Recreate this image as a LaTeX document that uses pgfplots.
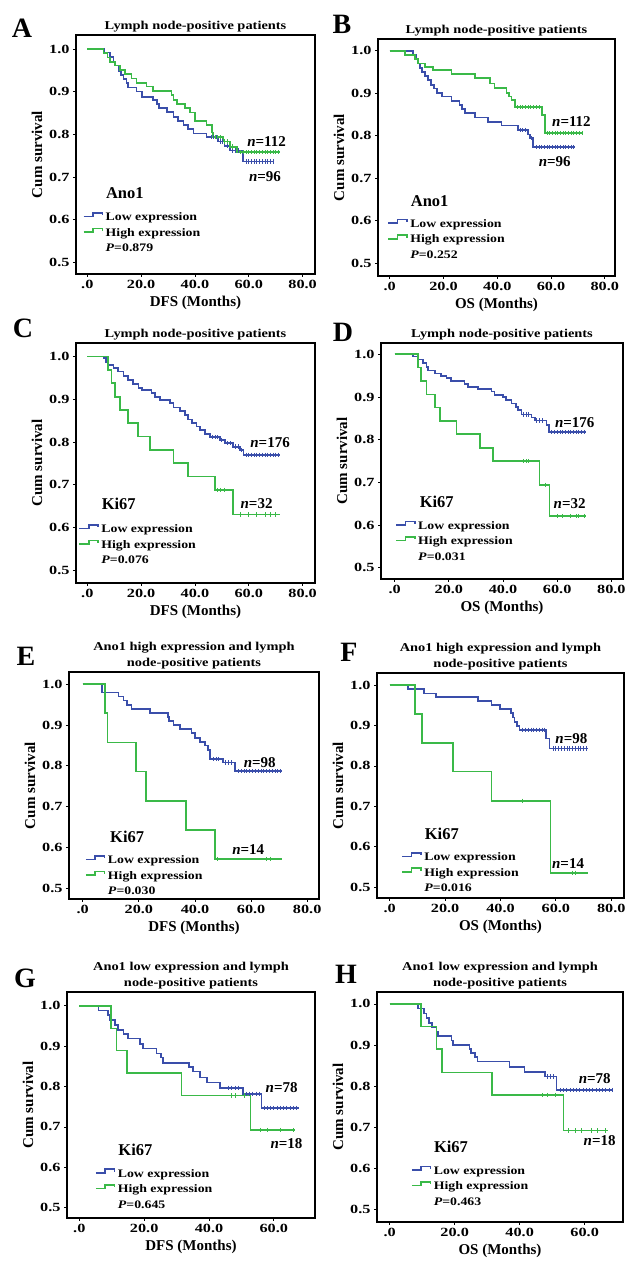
\documentclass[border=0pt]{standalone}
\usepackage{fontspec}
\setmainfont{Liberation Serif}
\usepackage{pgfplots}
\pgfplotsset{compat=1.18}
\definecolor{kmblue}{RGB}{58,78,170}
\definecolor{kmgreen}{RGB}{58,185,72}
\newcommand{\sx}[1]{\scalebox{1.2}[1]{#1}}
\newcommand{\st}[1]{\scalebox{1.3}[1]{#1}}

\pgfplotsset{
  km/.style={
    scale only axis, anchor=south west,
    axis line style={line width=1.4pt},
    tick align=outside, tick pos=left, major tick length=3pt,
    every tick/.style={black, line width=0.8pt},
    ytick={0.5,0.6,0.7,0.8,0.9,1.0},
    yticklabels={\st{0.5},\st{0.6},\st{0.7},\st{0.8},\st{0.9},\st{1.0}},
    xtick={0,20,40,60,80},
    xticklabels={\st{.0},\st{20.0},\st{40.0},\st{60.0},\st{80.0}},
    tick label style={font=\bfseries\fontsize{12.5}{12.5}\selectfont},
    label style={font=\bfseries\fontsize{15}{15}\selectfont},
    title style={font=\bfseries\fontsize{12}{16}\selectfont, align=center, yshift=-7pt},
    ylabel={Cum survival},
    legend cell align=left,
    legend style={draw=none, fill=none, inner sep=0pt, row sep=2.5pt,
      font=\bfseries\fontsize{11.5}{11.5}\selectfont,
      nodes={inner sep=0pt, text height=9.5pt, text depth=3.5pt},
      anchor=north west,
      /tikz/every odd column/.append style={column sep=2.5pt}},
    legend image code/.code={\draw[#1] (0pt,1.2pt) -- (9.3pt,1.2pt) -- (9.3pt,4.8pt) -- (18.7pt,4.8pt) -- (18.7pt,2.4pt);},
  },
  km60/.style={xtick={0,20,40,60}, xticklabels={\st{.0},\st{20.0},\st{40.0},\st{60.0}}},
  lo/.style={kmblue, line width=1.7pt, const plot, forget plot},
  hi/.style={kmgreen, line width=1.7pt, const plot, forget plot},
  locens/.style={kmblue, only marks, mark=|, mark size=2.2pt, forget plot, mark options={line width=0.8pt}},
  hicens/.style={kmgreen, only marks, mark=|, mark size=2.2pt, forget plot, mark options={line width=0.8pt}},
  lolg/.style={kmblue, line width=1.6pt},
  hilg/.style={kmgreen, line width=1.6pt},
}
\tikzset{nlab/.style={font=\bfseries\fontsize{15}{15}\selectfont},
  grp/.style={anchor=west, inner sep=0pt, font=\bfseries\fontsize{16.5}{16.5}\selectfont}}
\newcommand{\panel}[1]{\bfseries\fontsize{28}{28}\selectfont #1}

\begin{document}
\begin{tikzpicture}
\path[use as bounding box] (0pt,0pt) rectangle (637pt,1274pt);

% ---------------- A ----------------
\node at (22pt,1246pt) {\panel{A}};
\begin{axis}[km, at={(76pt,1000pt)}, width=239pt, height=239pt,
  xmin=-4.2, xmax=84.6, ymin=0.4726, ymax=1.0328,
  title={\sx{Lymph node-positive patients}}, xlabel={DFS (Months)},
  legend style={at={(axis cs:-1.7,0.620)}}]
\addlegendimage{lolg}\addlegendentry{\sx{Low expression}}
\addlegendimage{hilg}\addlegendentry{\sx{High expression}}
\addlegendimage{empty legend}\addlegendentry{\sx{\textit{P}=0.879}}
\addplot[lo] coordinates {(0,1)(6.2,0.992)(8.4,0.982)(9.7,0.970)(10.3,0.961)(11.8,0.949)(12.4,0.939)(13.4,0.930)(14.6,0.920)(15.2,0.910)(18.3,0.900)(20.2,0.888)(24.5,0.880)(26,0.871)(26.7,0.861)(29.5,0.852)(32,0.841)(33.8,0.832)(35.7,0.822)(37.5,0.812)(39.4,0.802)(44.3,0.793)(48.5,0.783)(51,0.772)(53,0.762)(57.8,0.736)(69,0.736)};
\addplot[hi] coordinates {(0,1)(6,0.990)(7.5,0.980)(8.4,0.970)(10.3,0.961)(12.1,0.951)(14,0.941)(16.4,0.931)(18.3,0.921)(22,0.912)(24.5,0.902)(31.3,0.892)(32,0.880)(33.2,0.871)(36.3,0.861)(38.1,0.851)(40,0.832)(44.3,0.822)(46.2,0.804)(46.8,0.793)(50.3,0.783)(53,0.771)(55.7,0.758)(71.6,0.758)};
\addplot[locens] coordinates {(46,0.793)(47,0.793)(48,0.793)(49.5,0.783)(50.3,0.783)(52,0.772)(54,0.762)(55,0.762)(56,0.762)(59,0.736)(60,0.736)(61,0.736)(62,0.736)(63,0.736)(64,0.736)(65,0.736)(66,0.736)(67,0.736)(68,0.736)(69,0.736)};
\addplot[hicens] coordinates {(47.5,0.793)(48.5,0.793)(49.5,0.793)(51,0.783)(52,0.783)(54,0.771)(57,0.758)(58,0.758)(59,0.758)(60,0.758)(61,0.758)(62,0.758)(63,0.758)(64,0.758)(65,0.758)(66,0.758)(67,0.758)(68,0.758)(69,0.758)(70,0.758)(71,0.758)};
\node[grp] at (axis cs:6.9,0.662) {Ano1};
\node[nlab] at (axis cs:66.6,0.783) {\textit{n}=112};
\node[nlab] at (axis cs:66,0.700) {\textit{n}=96};
\end{axis}

% ---------------- B ----------------
\node at (342pt,1250pt) {\panel{B}};
\begin{axis}[km, at={(378pt,998pt)}, width=237pt, height=237pt,
  xmin=-4.35, xmax=83.8, ymin=0.470, ymax=1.0275,
  title={\sx{Lymph node-positive patients}}, xlabel={OS (Months)},
  legend style={at={(axis cs:-0.9,0.607)}}]
\addlegendimage{lolg}\addlegendentry{\sx{Low expression}}
\addlegendimage{hilg}\addlegendentry{\sx{High expression}}
\addlegendimage{empty legend}\addlegendentry{\sx{\textit{P}=0.252}}
\addplot[lo] coordinates {(0,1)(8.7,0.990)(10,0.980)(10.6,0.970)(11.2,0.960)(12,0.950)(13,0.940)(14.3,0.931)(15.3,0.920)(16.5,0.911)(17.7,0.900)(19.5,0.892)(23,0.882)(26,0.872)(26.9,0.863)(27.9,0.853)(31.6,0.843)(36.6,0.833)(41.6,0.824)(47.8,0.813)(51.5,0.803)(52.1,0.794)(53.3,0.773)(68.9,0.773)};
\addplot[hi] coordinates {(0,1)(5.6,0.990)(9.3,0.980)(10.5,0.970)(13,0.962)(16,0.955)(23,0.945)(31.6,0.935)(37.2,0.923)(39,0.913)(43.4,0.900)(44.3,0.892)(45.3,0.884)(46.5,0.867)(56.7,0.848)(57.7,0.806)(72,0.806)};
\addplot[locens] coordinates {(48.5,0.813)(49.5,0.813)(50.5,0.813)(52.7,0.794)(54.5,0.773)(55.5,0.773)(56.5,0.773)(57.5,0.773)(58.5,0.773)(59.5,0.773)(60.5,0.773)(61.5,0.773)(62.5,0.773)(63.5,0.773)(64.5,0.773)(65.5,0.773)(66.5,0.773)(67.5,0.773)(68.5,0.773)};
\addplot[hicens] coordinates {(47.5,0.867)(48.5,0.867)(49.5,0.867)(50.5,0.867)(51.5,0.867)(52.5,0.867)(53.5,0.867)(54.5,0.867)(55.5,0.867)(58.5,0.806)(59.5,0.806)(60.5,0.806)(61.5,0.806)(62.5,0.806)(63.5,0.806)(64.5,0.806)(65.5,0.806)(66.5,0.806)(67.5,0.806)(68.5,0.806)(69.5,0.806)(70.5,0.806)(71.5,0.806)};
\node[grp] at (axis cs:7.8,0.647) {Ano1};
\node[nlab] at (axis cs:67.6,0.833) {\textit{n}=112};
\node[nlab] at (axis cs:61.4,0.739) {\textit{n}=96};
\end{axis}

% ---------------- C ----------------
\node at (23pt,946pt) {\panel{C}};
\begin{axis}[km, at={(76pt,691pt)}, width=239pt, height=240pt,
  xmin=-4.2, xmax=84.6, ymin=0.4695, ymax=1.032,
  title={\sx{Lymph node-positive patients}}, xlabel={DFS (Months)},
  legend style={at={(axis cs:-3.3,0.610)}}]
\addlegendimage{lolg}\addlegendentry{\sx{Low expression}}
\addlegendimage{hilg}\addlegendentry{\sx{High expression}}
\addlegendimage{empty legend}\addlegendentry{\sx{\textit{P}=0.076}}
\addplot[lo] coordinates {(0,1)(6,0.996)(7,0.988)(7.8,0.980)(9.7,0.973)(11.5,0.965)(13.4,0.955)(15.2,0.945)(17.1,0.936)(19,0.927)(20.2,0.922)(23.9,0.914)(25.1,0.905)(27,0.898)(30.7,0.891)(32,0.881)(34.4,0.873)(36.3,0.863)(37.5,0.853)(38.8,0.844)(40.6,0.836)(41.9,0.828)(43.7,0.819)(45.6,0.811)(49.3,0.805)(51.1,0.797)(54.2,0.789)(56.7,0.781)(58,0.770)(71.6,0.770)};
\addplot[hi] coordinates {(0,1)(7.8,0.969)(9,0.9375)(10.3,0.906)(12.1,0.875)(15.2,0.844)(18.9,0.8125)(23.3,0.781)(32,0.750)(37.5,0.719)(47.4,0.6875)(54.2,0.630)(71.6,0.630)};
\addplot[locens] coordinates {(46.5,0.811)(47.5,0.811)(48.5,0.811)(50,0.805)(52,0.797)(53,0.797)(55,0.789)(56,0.789)(57.3,0.781)(59,0.770)(60,0.770)(61,0.770)(62,0.770)(63,0.770)(64,0.770)(65,0.770)(66,0.770)(67,0.770)(68,0.770)(69,0.770)(70,0.770)(71,0.770)};
\addplot[hicens] coordinates {(48.5,0.6875)(49.5,0.6875)(51,0.6875)(57,0.630)(60,0.630)(63,0.630)(66,0.630)(68,0.630)(70,0.630)};
\node[grp] at (axis cs:5.3,0.656) {Ki67};
\node[nlab] at (axis cs:67.9,0.798) {\textit{n}=176};
\node[nlab] at (axis cs:62.9,0.656) {\textit{n}=32};
\end{axis}

% ---------------- D ----------------
\node at (343pt,942pt) {\panel{D}};
\begin{axis}[km, at={(381pt,695pt)}, width=242pt, height=236pt,
  xmin=-5.06, xmax=84.3, ymin=0.4735, ymax=1.0265,
  title={\sx{Lymph node-positive patients}}, xlabel={OS (Months)},
  legend style={at={(axis cs:0.2,0.613)}}]
\addlegendimage{lolg}\addlegendentry{\sx{Low expression}}
\addlegendimage{hilg}\addlegendentry{\sx{High expression}}
\addlegendimage{empty legend}\addlegendentry{\sx{\textit{P}=0.031}}
\addplot[lo] coordinates {(0,1)(6.8,0.995)(8.6,0.988)(10.5,0.980)(11.7,0.971)(12.3,0.962)(14.8,0.955)(17.2,0.949)(19.1,0.944)(20.9,0.938)(25.8,0.930)(27.1,0.923)(30.8,0.918)(35.7,0.913)(36.9,0.905)(40,0.900)(41.2,0.893)(43.1,0.885)(44.9,0.877)(45.5,0.870)(46.8,0.859)(50.5,0.852)(51.7,0.845)(56,0.834)(57,0.818)(70.8,0.818)};
\addplot[hi] coordinates {(0,1)(8.6,0.969)(9.8,0.9375)(11.7,0.906)(14.8,0.875)(16.6,0.844)(22.8,0.8125)(31.4,0.781)(36.3,0.750)(53.5,0.694)(57.2,0.621)(70.8,0.621)};
\addplot[locens] coordinates {(47.5,0.859)(48.5,0.859)(49.5,0.859)(52.5,0.845)(53.5,0.845)(54.5,0.845)(58,0.818)(59,0.818)(60,0.818)(61,0.818)(62,0.818)(63,0.818)(64,0.818)(65,0.818)(66,0.818)(67,0.818)(68,0.818)(69,0.818)(70,0.818)};
\addplot[hicens] coordinates {(47.5,0.750)(48.5,0.750)(49.5,0.750)(55.5,0.694)(60,0.621)(62,0.621)(65,0.621)(67,0.621)(68,0.621)(70,0.621)};
\node[grp] at (axis cs:9.2,0.655) {Ki67};
\node[nlab] at (axis cs:66.5,0.840) {\textit{n}=176};
\node[nlab] at (axis cs:64.6,0.651) {\textit{n}=32};
\end{axis}

% ---------------- E ----------------
\node at (26pt,618pt) {\panel{E}};
\begin{axis}[km, at={(69pt,375pt)}, width=250pt, height=227pt,
  xmin=-4.9, xmax=84.2, ymin=0.474, ymax=1.030,
  title={\sx{Ano1 high expression and lymph}\\\sx{node-positive patients}}, xlabel={DFS (Months)},
  legend style={at={(axis cs:0.8,0.584)}}]
\addlegendimage{lolg}\addlegendentry{\sx{Low expression}}
\addlegendimage{hilg}\addlegendentry{\sx{High expression}}
\addlegendimage{empty legend}\addlegendentry{\sx{\textit{P}=0.030}}
\addplot[lo] coordinates {(0,1)(6.8,0.980)(12.7,0.970)(14.5,0.960)(15.7,0.950)(17.4,0.940)(24,0.929)(30.5,0.919)(30.8,0.910)(32.3,0.900)(34.7,0.890)(38.8,0.880)(40,0.869)(41.8,0.859)(43.6,0.850)(44.7,0.839)(45.3,0.817)(50.1,0.808)(54.2,0.787)(70.9,0.787)};
\addplot[hi] coordinates {(0,1)(7.9,0.929)(8.8,0.857)(19,0.786)(22.6,0.714)(36.8,0.643)(47.1,0.572)(70.9,0.572)};
\addplot[locens] coordinates {(46.5,0.817)(47.5,0.817)(48.5,0.817)(51,0.808)(52,0.808)(53,0.808)(55.5,0.787)(56.5,0.787)(57.5,0.787)(58.5,0.787)(59.5,0.787)(60.5,0.787)(61.5,0.787)(62.5,0.787)(63.5,0.787)(64.5,0.787)(65.5,0.787)(66.5,0.787)(67.5,0.787)(68.5,0.787)(69.5,0.787)(70.5,0.787)};
\addplot[hicens] coordinates {(48,0.572)(65.5,0.572)(67,0.572)};
\node[grp] at (axis cs:9.7,0.627) {Ki67};
\node[nlab] at (axis cs:63.1,0.809) {\textit{n}=98};
\node[nlab] at (axis cs:59,0.594) {\textit{n}=14};
\end{axis}

% ---------------- F ----------------
\node at (349pt,622pt) {\panel{F}};
\begin{axis}[km, at={(377pt,376pt)}, width=247pt, height=225pt,
  xmin=-4.6, xmax=84.6, ymin=0.4736, ymax=1.0297,
  title={\sx{Ano1 high expression and lymph}\\\sx{node-positive patients}}, xlabel={OS (Months)},
  legend style={at={(axis cs:4.2,0.590)}}]
\addlegendimage{lolg}\addlegendentry{\sx{Low expression}}
\addlegendimage{hilg}\addlegendentry{\sx{High expression}}
\addlegendimage{empty legend}\addlegendentry{\sx{\textit{P}=0.016}}
\addplot[lo] coordinates {(0,1)(6.6,0.990)(12.4,0.979)(16.8,0.970)(31.9,0.960)(36.7,0.950)(39.7,0.940)(43.9,0.930)(44.5,0.920)(45.1,0.909)(46,0.899)(46.9,0.889)(56.5,0.868)(57.7,0.843)(71.6,0.843)};
\addplot[hi] coordinates {(0,1)(9,0.929)(11.7,0.857)(22.9,0.786)(36.7,0.714)(58.1,0.536)(71.6,0.536)};
\addplot[locens] coordinates {(48,0.889)(49,0.889)(50,0.889)(51,0.889)(52,0.889)(53,0.889)(54,0.889)(55,0.889)(56,0.889)(59,0.843)(60,0.843)(61,0.843)(62,0.843)(63,0.843)(64,0.843)(65,0.843)(66,0.843)(67,0.843)(68,0.843)(69,0.843)(70,0.843)(71,0.843)};
\addplot[hicens] coordinates {(48,0.714)(66,0.536)(67,0.536)};
\node[grp] at (axis cs:12.6,0.632) {Ki67};
\node[nlab] at (axis cs:65.6,0.868) {\textit{n}=98};
\node[nlab] at (axis cs:64.4,0.559) {\textit{n}=14};
\end{axis}

% ---------------- G ----------------
\node at (25pt,296pt) {\panel{G}};
\begin{axis}[km, km60, at={(67pt,56pt)}, width=248pt, height=226pt,
  xmin=-3.8, xmax=72.7, ymin=0.4745, ymax=1.034,
  title={\sx{Ano1 low expression and lymph}\\\sx{node-positive patients}}, xlabel={DFS (Months)},
  legend style={at={(axis cs:4.8,0.600)}}]
\addlegendimage{lolg}\addlegendentry{\sx{Low expression}}
\addlegendimage{hilg}\addlegendentry{\sx{High expression}}
\addlegendimage{empty legend}\addlegendentry{\sx{\textit{P}=0.645}}
\addplot[lo] coordinates {(0,1)(5.9,0.988)(8.9,0.977)(9.5,0.965)(11,0.952)(12,0.940)(13.6,0.930)(15.1,0.919)(18.7,0.905)(19.7,0.894)(23.8,0.882)(25.1,0.872)(25.9,0.859)(33.9,0.849)(35.1,0.837)(37.2,0.822)(39.3,0.810)(43.4,0.797)(50.5,0.782)(56.2,0.747)(67.8,0.747)};
\addplot[hi] coordinates {(0,1)(9.8,0.944)(11.5,0.889)(14.6,0.833)(31.5,0.778)(52.8,0.692)(66.5,0.692)};
\addplot[locens] coordinates {(46,0.797)(47,0.797)(48,0.797)(49,0.797)(51.5,0.782)(52.5,0.782)(53.5,0.782)(54.5,0.782)(55.5,0.782)(57,0.747)(58,0.747)(59,0.747)(60,0.747)(61,0.747)(62,0.747)(63,0.747)(64,0.747)(65,0.747)(66,0.747)(67,0.747)};
\addplot[hicens] coordinates {(47,0.778)(48,0.778)(51,0.778)(56,0.692)(58,0.692)(62,0.692)(66,0.692)};
\node[grp] at (axis cs:12,0.643) {Ki67};
\node[nlab] at (axis cs:62.4,0.798) {\textit{n}=78};
\node[nlab] at (axis cs:63.9,0.659) {\textit{n}=18};
\end{axis}

% ---------------- H ----------------
\node at (346pt,300pt) {\panel{H}};
\begin{axis}[km, km60, at={(377pt,52pt)}, width=246pt, height=230pt,
  xmin=-3.9, xmax=71.8, ymin=0.469, ymax=1.029,
  title={\sx{Ano1 low expression and lymph}\\\sx{node-positive patients}}, xlabel={OS (Months)},
  legend style={at={(axis cs:6.5,0.609)}}]
\addlegendimage{lolg}\addlegendentry{\sx{Low expression}}
\addlegendimage{hilg}\addlegendentry{\sx{High expression}}
\addlegendimage{empty legend}\addlegendentry{\sx{\textit{P}=0.463}}
\addplot[lo] coordinates {(0,1)(8.7,0.989)(10.6,0.977)(11.3,0.965)(12.1,0.953)(13,0.943)(14.4,0.933)(14.9,0.922)(19,0.911)(19.5,0.900)(24.6,0.890)(25.1,0.880)(26.2,0.870)(27,0.860)(36.9,0.847)(41.5,0.835)(47.7,0.823)(51.3,0.790)(68.7,0.790)};
\addplot[hi] coordinates {(0,1)(9.7,0.945)(14.4,0.890)(16.1,0.833)(31.5,0.778)(53.5,0.692)(67.2,0.692)};
\addplot[locens] coordinates {(48.5,0.823)(49.5,0.823)(50.5,0.823)(52.5,0.790)(53.5,0.790)(54.5,0.790)(55.5,0.790)(56.5,0.790)(57.5,0.790)(58.5,0.790)(59.5,0.790)(60.5,0.790)(61.5,0.790)(62.5,0.790)(63.5,0.790)(64.5,0.790)(65.5,0.790)(66.5,0.790)(67.5,0.790)(68.5,0.790)};
\addplot[hicens] coordinates {(47,0.778)(48.5,0.778)(51,0.778)(55,0.692)(57,0.692)(59,0.692)(62,0.692)(64,0.692)(66.5,0.692)};
\node[grp] at (axis cs:13.6,0.653) {Ki67};
\node[nlab] at (axis cs:63.1,0.819) {\textit{n}=78};
\node[nlab] at (axis cs:64.6,0.667) {\textit{n}=18};
\end{axis}
\end{tikzpicture}
\end{document}
